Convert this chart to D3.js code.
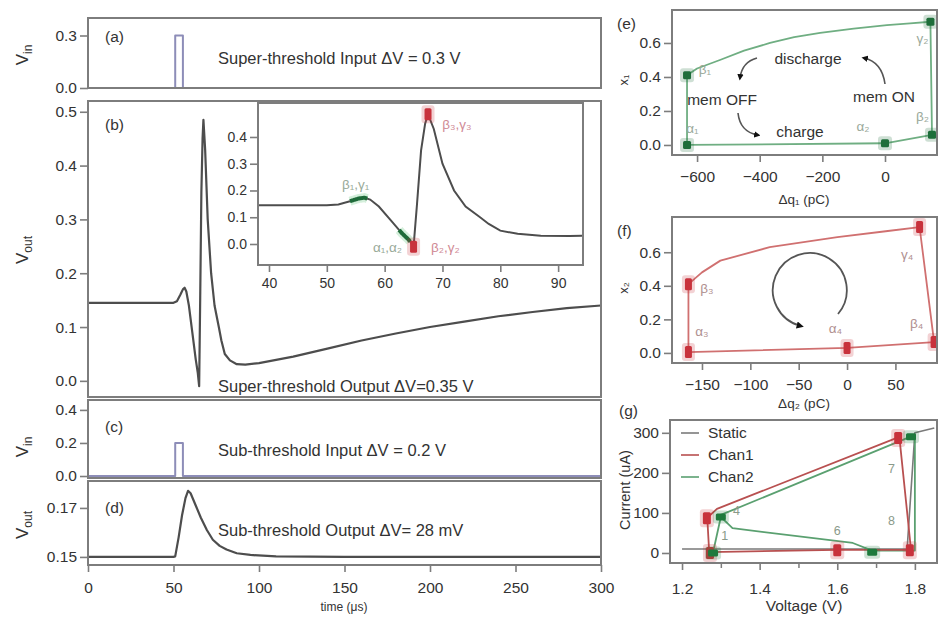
<!DOCTYPE html>
<html><head><meta charset="utf-8">
<script src="https://cdn.jsdelivr.net/npm/d3@7/dist/d3.min.js"></script>
<style>
body{margin:0;background:#fff}
text{font-family:"Liberation Sans",Arial,sans-serif;fill:#333}
</style>
</head><body>
<svg id="c" width="938" height="618"></svg>
<script>
// ---------------- DATA ----------------
const timeTicks = [0, 50, 100, 150, 200, 250, 300];
// (a) super-threshold input pulse
const inA_t = [0, 51, 51, 55.5, 55.5, 300];
const inA_v = [0, 0, 0.3, 0.3, 0, 0];
// (b) super-threshold output
const outB_t = [0, 50, 52, 54, 55.5, 56.5, 57.5, 59, 61, 63, 64.2, 65, 65.6, 66.3, 67, 67.5, 68.5, 70, 72, 74, 76.5, 78, 80, 83, 87, 92, 100, 120, 140, 160, 180, 200, 220, 240, 260, 280, 300];
const outB_v = [0.145, 0.145, 0.148, 0.16, 0.17, 0.173, 0.166, 0.14, 0.09, 0.04, 0.015, -0.01, 0.15, 0.35, 0.45, 0.485, 0.43, 0.3, 0.2, 0.14, 0.1, 0.075, 0.05, 0.038, 0.031, 0.03, 0.033, 0.045, 0.06, 0.075, 0.088, 0.1, 0.11, 0.12, 0.128, 0.135, 0.14];
// (c) sub-threshold input pulse
const inC_t = [0, 51, 51, 55.5, 55.5, 300];
const inC_v = [0, 0, 0.2, 0.2, 0, 0];
// (d) sub-threshold output
const outD_t = [0, 50, 51, 53, 55, 57, 58.5, 60, 63, 66, 69.5, 73, 77, 81, 87, 95, 110, 150, 200, 250, 300];
const outD_v = [0.15, 0.15, 0.1502, 0.158, 0.167, 0.174, 0.177, 0.176, 0.171, 0.166, 0.161, 0.157, 0.1545, 0.153, 0.1515, 0.1508, 0.1502, 0.15, 0.15, 0.15, 0.15];
// inset
const insetXTicks = [40, 50, 60, 70, 80, 90];
const insetYTicks = [0.0, 0.1, 0.2, 0.3, 0.4];
const insetGreenRanges = [[54, 57], [62.5, 64.4]];
const insetRed_t = [65, 67.5];
const insetRed_v = [-0.01, 0.485];
const insetLabels = ["β\u2081,γ\u2081", "α\u2081,α\u2082", "β\u2082,γ\u2082", "β\u2083,γ\u2083"];
// (e)
const e_q = [-632, -632, -600, -527, -450, -367, -290, -207, -100, 6, 80, 145, 150, 0, -632];
const e_x = [0.0, 0.41, 0.45, 0.5, 0.555, 0.6, 0.635, 0.66, 0.685, 0.705, 0.715, 0.725, 0.06, 0.01, 0.0];
const eMark_q = [-632, -632, 0, 150, 145];
const eMark_x = [0.41, 0.0, 0.01, 0.06, 0.725];
const eXTicks = [-600, -400, -200, 0];
const eLabels = ["β\u2081", "α\u2081", "α\u2082", "β\u2082", "γ\u2082"];
// (f)
const f_q = [-164, -164, -150, -131, -80, -10, 40, 75, 90, 0, -164];
const f_x = [0.005, 0.41, 0.48, 0.55, 0.63, 0.69, 0.725, 0.75, 0.065, 0.03, 0.005];
const fMark_q = [-164, -164, 0, 90, 75];
const fMark_x = [0.41, 0.005, 0.03, 0.065, 0.75];
const fXTicks = [-150, -100, -50, 0, 50];
const fLabels = ["β\u2083", "α\u2083", "α\u2084", "β\u2084", "γ\u2084"];
const stateTicks = [0.0, 0.2, 0.4, 0.6];
// (g)
const static_V = [1.2, 1.78, 1.8, 1.85];
const static_I = [10, 10, 300, 312];
const chan1_V = [1.27, 1.6, 1.79, 1.76, 1.29, 1.265, 1.27];
const chan1_I = [2, 8, 8, 290, 110, 88, 2];
const chan2_V = [1.28, 1.3, 1.33, 1.64, 1.69, 1.8, 1.8, 1.3];
const chan2_I = [2, 90, 62, 25, 6, 6, 295, 95];
const c1Mark_V = [1.264, 1.272, 1.6, 1.787, 1.757];
const c1Mark_I = [87, 0, 7, 7, 287];
const c2Mark_V = [1.3, 1.28, 1.69, 1.79];
const c2Mark_I = [90, 0, 2, 290];
const gXTicks = [1.2, 1.4, 1.6, 1.8];
const gXMinor = [1.3, 1.5, 1.7];
const gYTicks = [0, 100, 200, 300];
const gLegend = ["Static", "Chan1", "Chan2"];
const gNums = ["4", "1", "6", "8", "7"];

// ---------------- DRAW ----------------
const svg = d3.select("#c");
const FR = "#7d7d7d", CURVE = "#4d4d4d", PULSE = "#8d8db8";
const RED = "#c8323c";
const FS = 15.5, AFS = 16.5;

function pts(xs, ys) { return xs.map((d, i) => [d, ys[i]]); }
function frame(x, y) {
  const [x0, x1] = x.range(), [y0, y1] = [y.range()[1], y.range()[0]];
  svg.append("rect").attr("x", x0).attr("y", y0).attr("width", x1 - x0).attr("height", y1 - y0)
    .attr("fill", "none").attr("stroke", FR).attr("stroke-width", 2);
}
function styleAxis(g, fs) {
  g.select(".domain").remove();
  g.selectAll(".tick line").attr("stroke", FR).attr("stroke-width", 1.6);
  g.selectAll(".tick text").style("font-size", (fs || FS) + "px").attr("fill", "#333")
    .style("font-family", '"Liberation Sans",Arial,sans-serif');
}
function yAxis(y, x0, ticks, fmt, fs) {
  const g = svg.append("g").attr("transform", `translate(${x0},0)`)
    .call(d3.axisLeft(y).tickValues(ticks).tickSize(8).tickPadding(3).tickFormat(fmt));
  styleAxis(g, fs);
}
function xAxis(x, y0, ticks, fmt, fs, pad) {
  const g = svg.append("g").attr("transform", `translate(0,${y0})`)
    .call(d3.axisBottom(x).tickValues(ticks).tickSize(7).tickPadding(pad || 8).tickFormat(fmt));
  styleAxis(g, fs);
}
function line(x, y, data, color, w) {
  svg.append("path").datum(data)
    .attr("d", d3.line().x(d => x(d[0])).y(d => y(d[1])))
    .attr("fill", "none").attr("stroke", color).attr("stroke-width", w).attr("stroke-linejoin", "round");
}
function marker(cx, cy, color, w, h) {
  w = w || 7; h = h || 11;
  svg.append("rect").attr("x", cx - w / 2 - 3).attr("y", cy - h / 2 - 3).attr("width", w + 6).attr("height", h + 6)
    .attr("fill", color).attr("opacity", 0.22).attr("rx", 3);
  svg.append("rect").attr("x", cx - w / 2).attr("y", cy - h / 2).attr("width", w).attr("height", h)
    .attr("fill", color).attr("rx", 1.5);
}
function txt(x, y, s, opts) {
  opts = opts || {};
  const t = svg.append("text").attr("x", x).attr("y", y).text(s)
    .style("font-size", (opts.fs || FS) + "px").attr("text-anchor", opts.anchor || "start");
  if (opts.fill) t.style("fill", opts.fill);
  if (opts.rot) t.attr("transform", `rotate(-90,${x},${y})`);
  return t;
}
function vLabel(x, y, sub) {
  const t = svg.append("text").attr("transform", `translate(${x},${y}) rotate(-90)`)
    .attr("text-anchor", "middle").style("font-size", "17px");
  t.append("tspan").text("V");
  t.append("tspan").text(sub).attr("dy", 4).style("font-size", "12px");
}

const xT = d3.scaleLinear().domain([0, 300]).range([88, 601]);
const fmt1 = d3.format(".1f");

// (a)
const yA = d3.scaleLinear().domain([0, 0.4]).range([88, 18]);
line(xT, yA, pts(inA_t, inA_v), PULSE, 2);
frame(xT, yA);
yAxis(yA, 88, [0, 0.3], fmt1);
txt(105, 42, "(a)");
txt(218, 64, "Super-threshold Input ΔV = 0.3 V", {fs: AFS});
vLabel(28, 55, "in");

// (b)
const yB = d3.scaleLinear().domain([-0.03, 0.52]).range([397, 101]);
line(xT, yB, pts(outB_t, outB_v), CURVE, 2.2);
frame(xT, yB);
yAxis(yB, 88, [0, 0.1, 0.2, 0.3, 0.4, 0.5], fmt1);
txt(105, 130, "(b)");
txt(218, 392, "Super-threshold Output ΔV=0.35 V", {fs: AFS});
vLabel(28, 250, "out");

// inset
const xI = d3.scaleLinear().domain([38.1, 94.3]).range([258, 583]);
const yI = d3.scaleLinear().domain([-0.0785, 0.527]).range([265, 103]);
svg.append("rect").attr("x", 258).attr("y", 103).attr("width", 325).attr("height", 162).attr("fill", "#fff");
svg.append("clipPath").attr("id", "ic").append("rect").attr("x", 259).attr("y", 104).attr("width", 323).attr("height", 160);
svg.append("path").datum(pts(outB_t, outB_v)).attr("clip-path", "url(#ic)")
  .attr("d", d3.line().x(d => xI(d[0])).y(d => yI(d[1])))
  .attr("fill", "none").attr("stroke", CURVE).attr("stroke-width", 2);
const interp = d3.scaleLinear().domain(outB_t).range(outB_v);
insetGreenRanges.forEach(r => {
  const seg = d3.range(r[0], r[1] + 0.001, 0.1).map(t => [t, interp(t)]);
  svg.append("path").datum(seg).attr("d", d3.line().x(d => xI(d[0])).y(d => yI(d[1])))
    .attr("fill", "none").attr("stroke", "#9fdcb0").attr("stroke-width", 9).attr("opacity", 0.45);
  svg.append("path").datum(seg).attr("d", d3.line().x(d => xI(d[0])).y(d => yI(d[1])))
    .attr("fill", "none").attr("stroke", "#1f6b3a").attr("stroke-width", 4);
});
insetRed_t.forEach((t, i) => marker(xI(t), yI(insetRed_v[i]), RED, 7, 12));
frame(xI, yI);
yAxis(yI, 258, insetYTicks, fmt1, 14);
xAxis(xI, 265, insetXTicks, d3.format("d"), 14, 6);
txt(xI(55), yI(0.205), insetLabels[0], {fs: 13.5, fill: "#99aa99", anchor: "middle"});
txt(xI(60.5), yI(-0.03), insetLabels[1], {fs: 13.5, fill: "#99aa99", anchor: "middle"});
txt(xI(70.5), yI(-0.03), insetLabels[2], {fs: 13.5, fill: "#d08a95", anchor: "middle"});
txt(xI(72.5), yI(0.43), insetLabels[3], {fs: 13.5, fill: "#d08a95", anchor: "middle"});

// (c)
const yC = d3.scaleLinear().domain([-0.012, 0.46]).range([478, 400]);
line(xT, yC, pts(inC_t, inC_v), PULSE, 2);
frame(xT, yC);
yAxis(yC, 88, [0, 0.2, 0.4], fmt1);
txt(105, 432, "(c)");
txt(218, 456, "Sub-threshold Input ΔV = 0.2 V", {fs: AFS});
vLabel(28, 447, "in");

// (d)
const yD = d3.scaleLinear().domain([0.1467, 0.181]).range([565, 481]);
line(xT, yD, pts(outD_t, outD_v), CURVE, 2.2);
frame(xT, yD);
yAxis(yD, 88, [0.15, 0.17], d3.format(".2f"));
xAxis(xT, 565, timeTicks, d3.format("d"), FS, 10);
txt(105, 513, "(d)");
txt(218, 536, "Sub-threshold Output ΔV= 28 mV", {fs: AFS});
vLabel(28, 525, "out");
txt(344, 611, "time (μs)", {fs: 12, anchor: "middle"});

// arrow marker def
const defs = svg.append("defs");
defs.append("marker").attr("id", "ah").attr("viewBox", "0 0 10 10").attr("refX", 6).attr("refY", 5)
  .attr("markerWidth", 4).attr("markerHeight", 4).attr("orient", "auto")
  .append("path").attr("d", "M0,0 L10,5 L0,10 z").attr("fill", "#111");

// (e)
const xE = d3.scaleLinear().domain([-680, 166]).range([672, 937]);
const yE = d3.scaleLinear().domain([-0.059, 0.794]).range([155, 10]);
line(xE, yE, pts(e_q, e_x), "#6fae82", 1.8);
eMark_q.forEach((q, i) => marker(xE(q), yE(eMark_x[i]), "#1e6e3a", 8, 8));
frame(xE, yE);
yAxis(yE, 672, stateTicks, fmt1);
xAxis(xE, 155, eXTicks, d3.format("d"), FS, 9);
txt(617, 29, "(e)");
txt(628, 80, "x\u2081", {rot: true, anchor: "middle", fs: 13});
txt(804, 204, "Δq\u2081 (pC)", {anchor: "middle", fs: 13.5});
txt(808, 64, "discharge", {anchor: "middle"});
txt(722, 105, "mem OFF", {anchor: "middle"});
txt(884, 102, "mem ON", {anchor: "middle"});
txt(800, 137, "charge", {anchor: "middle"});
["M885,84 Q882,62 864,58", "M757,58 Q742,62 740,78", "M738,113 Q740,132 758,135"].forEach(p =>
  svg.append("path").attr("d", p).attr("fill", "none").attr("stroke", "#555").attr("stroke-width", 1.6)
    .attr("marker-end", "url(#ah)"));
const eLabPos = [[-575, 0.42], [-615, 0.07], [-70, 0.08], [120, 0.14], [120, 0.6]];
eLabels.forEach((s, i) => txt(xE(eLabPos[i][0]), yE(eLabPos[i][1]), s, {fs: 13.5, fill: "#9aa99a", anchor: "middle"}));

// (f)
const xF = d3.scaleLinear().domain([-181, 93]).range([672, 937]);
const yF = d3.scaleLinear().domain([-0.06, 0.81]).range([363, 217]);
line(xF, yF, pts(f_q, f_x), "#d07070", 1.8);
fMark_q.forEach((q, i) => marker(xF(q), yF(fMark_x[i]), RED, 7, 12));
frame(xF, yF);
yAxis(yF, 672, stateTicks, fmt1);
xAxis(xF, 363, fXTicks, d3.format("d"), FS, 9);
txt(617, 236, "(f)");
txt(628, 288, "x\u2082", {rot: true, anchor: "middle", fs: 13});
txt(804, 408, "Δq\u2082 (pC)", {anchor: "middle", fs: 13.5});
svg.append("path").attr("d", "M838,314 A37,37 0 1 0 801,326").attr("fill", "none")
  .attr("stroke", "#555").attr("stroke-width", 1.8).attr("marker-end", "url(#ah)");
const fLabPos = [[-145, 0.36], [-150, 0.1], [-12, 0.12], [72, 0.15], [62, 0.56]];
fLabels.forEach((s, i) => txt(xF(fLabPos[i][0]), yF(fLabPos[i][1]), s, {fs: 13.5, fill: "#b09090", anchor: "middle"}));

// (g)
const xG = d3.scaleLinear().domain([1.169, 1.857]).range([670, 937]);
const yG = d3.scaleLinear().domain([-25, 332]).range([563, 420]);
line(xG, yG, pts(static_V, static_I), "#7a7a7a", 1.6);
line(xG, yG, pts(chan2_V, chan2_I), "#5aa070", 1.8);
line(xG, yG, pts(chan1_V, chan1_I), "#b85050", 1.8);
c1Mark_V.forEach((v, i) => marker(xG(v), yG(c1Mark_I[i]), RED, 8, 12));
c2Mark_V.forEach((v, i) => marker(xG(v), yG(c2Mark_I[i]), "#1e7a3c", 10, 7));
frame(xG, yG);
yAxis(yG, 670, gYTicks, d3.format("d"));
xAxis(xG, 563, gXTicks, d3.format(".1f"), FS, 13);
svg.append("g").attr("transform", "translate(0,563)")
  .call(d3.axisBottom(xG).tickValues(gXMinor).tickSize(5).tickFormat(""))
  .call(g => { g.select(".domain").remove(); g.selectAll("line").attr("stroke", FR).attr("stroke-width", 1.5); });
txt(619, 416, "(g)");
txt(630, 490, "Current (uA)", {rot: true, anchor: "middle", fs: 14.5});
txt(804, 611, "Voltage (V)", {anchor: "middle"});
const legCol = ["#7a7a7a", "#b85050", "#5aa070"];
gLegend.forEach((s, i) => {
  const yy = 433 + i * 22;
  svg.append("line").attr("x1", 681).attr("x2", 699).attr("y1", yy).attr("y2", yy)
    .attr("stroke", legCol[i]).attr("stroke-width", 1.6);
  txt(708, yy + 5, s);
});
const gNumPos = [[1.34, 95], [1.31, 32], [1.6, 45], [1.74, 70], [1.74, 200]];
gNums.forEach((s, i) => txt(xG(gNumPos[i][0]), yG(gNumPos[i][1]), s, {fs: 12.5, fill: "#8a9a8a", anchor: "middle"}));
</script>
</body></html>
